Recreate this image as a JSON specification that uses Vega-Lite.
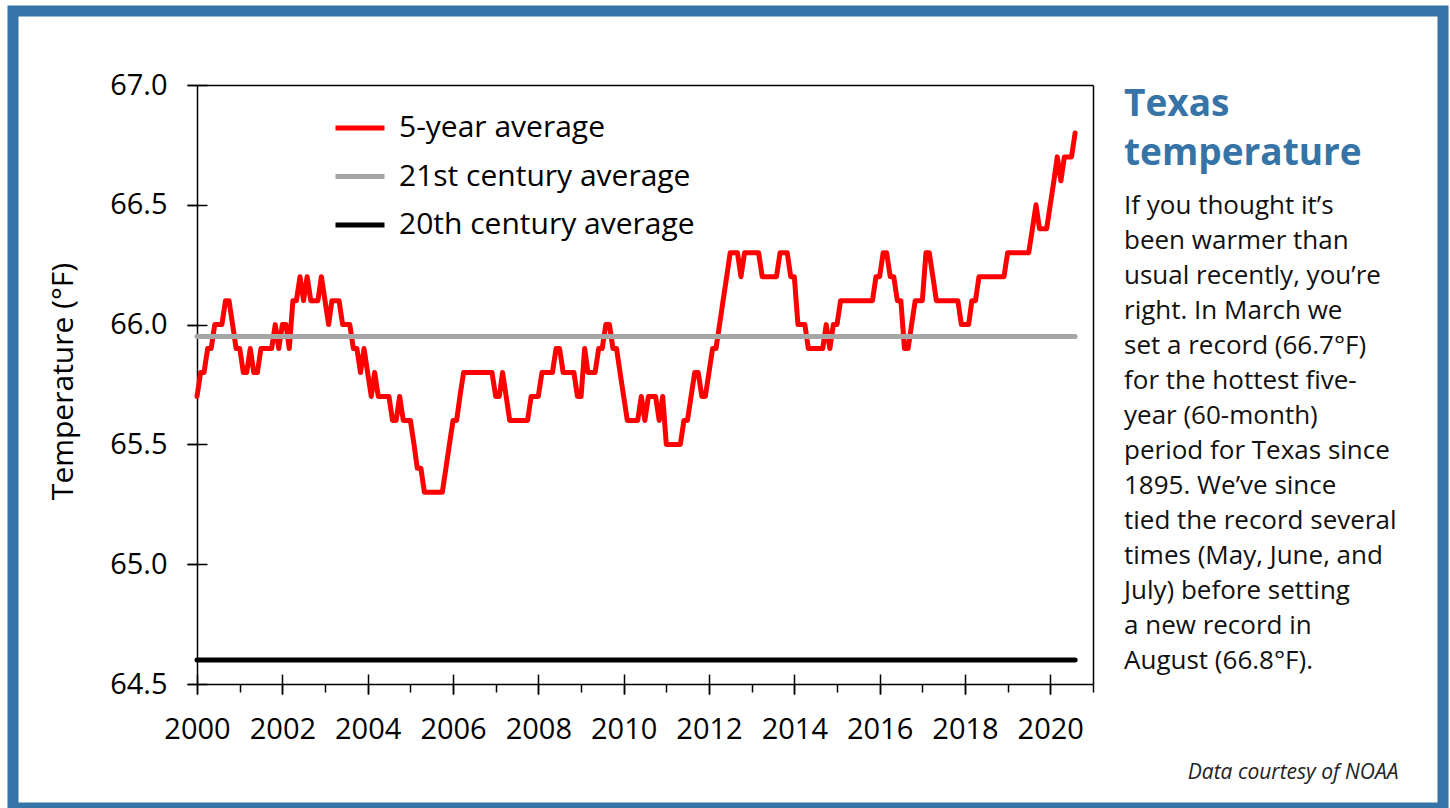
{
  "$schema": "https://vega.github.io/schema/vega-lite/v6.json",
  "width": 1430,
  "height": 797,
  "autosize": "none",
  "padding": {"left": 13, "top": 11, "right": 7, "bottom": 0},
  "background": "white",
  "datasets": {
    "five": [
      {"d":"2000-01","t":65.7},{"d":"2000-02","t":65.8},{"d":"2000-03","t":65.8},{"d":"2000-04","t":65.9},{"d":"2000-05","t":65.9},{"d":"2000-06","t":66.0},{"d":"2000-07","t":66.0},{"d":"2000-08","t":66.0},{"d":"2000-09","t":66.1},{"d":"2000-10","t":66.1},{"d":"2000-11","t":66.0},{"d":"2000-12","t":65.9},
      {"d":"2001-01","t":65.9},{"d":"2001-02","t":65.8},{"d":"2001-03","t":65.8},{"d":"2001-04","t":65.9},{"d":"2001-05","t":65.8},{"d":"2001-06","t":65.8},{"d":"2001-07","t":65.9},{"d":"2001-08","t":65.9},{"d":"2001-09","t":65.9},{"d":"2001-10","t":65.9},{"d":"2001-11","t":66.0},{"d":"2001-12","t":65.9},
      {"d":"2002-01","t":66.0},{"d":"2002-02","t":66.0},{"d":"2002-03","t":65.9},{"d":"2002-04","t":66.1},{"d":"2002-05","t":66.1},{"d":"2002-06","t":66.2},{"d":"2002-07","t":66.1},{"d":"2002-08","t":66.2},{"d":"2002-09","t":66.1},{"d":"2002-10","t":66.1},{"d":"2002-11","t":66.1},{"d":"2002-12","t":66.2},
      {"d":"2003-01","t":66.1},{"d":"2003-02","t":66.0},{"d":"2003-03","t":66.1},{"d":"2003-04","t":66.1},{"d":"2003-05","t":66.1},{"d":"2003-06","t":66.0},{"d":"2003-07","t":66.0},{"d":"2003-08","t":66.0},{"d":"2003-09","t":65.9},{"d":"2003-10","t":65.9},{"d":"2003-11","t":65.8},{"d":"2003-12","t":65.9},
      {"d":"2004-01","t":65.8},{"d":"2004-02","t":65.7},{"d":"2004-03","t":65.8},{"d":"2004-04","t":65.7},{"d":"2004-05","t":65.7},{"d":"2004-06","t":65.7},{"d":"2004-07","t":65.7},{"d":"2004-08","t":65.6},{"d":"2004-09","t":65.6},{"d":"2004-10","t":65.7},{"d":"2004-11","t":65.6},{"d":"2004-12","t":65.6},
      {"d":"2005-01","t":65.6},{"d":"2005-02","t":65.5},{"d":"2005-03","t":65.4},{"d":"2005-04","t":65.4},{"d":"2005-05","t":65.3},{"d":"2005-06","t":65.3},{"d":"2005-07","t":65.3},{"d":"2005-08","t":65.3},{"d":"2005-09","t":65.3},{"d":"2005-10","t":65.3},{"d":"2005-11","t":65.4},{"d":"2005-12","t":65.5},
      {"d":"2006-01","t":65.6},{"d":"2006-02","t":65.6},{"d":"2006-03","t":65.7},{"d":"2006-04","t":65.8},{"d":"2006-05","t":65.8},{"d":"2006-06","t":65.8},{"d":"2006-07","t":65.8},{"d":"2006-08","t":65.8},{"d":"2006-09","t":65.8},{"d":"2006-10","t":65.8},{"d":"2006-11","t":65.8},{"d":"2006-12","t":65.8},
      {"d":"2007-01","t":65.7},{"d":"2007-02","t":65.7},{"d":"2007-03","t":65.8},{"d":"2007-04","t":65.7},{"d":"2007-05","t":65.6},{"d":"2007-06","t":65.6},{"d":"2007-07","t":65.6},{"d":"2007-08","t":65.6},{"d":"2007-09","t":65.6},{"d":"2007-10","t":65.6},{"d":"2007-11","t":65.7},{"d":"2007-12","t":65.7},
      {"d":"2008-01","t":65.7},{"d":"2008-02","t":65.8},{"d":"2008-03","t":65.8},{"d":"2008-04","t":65.8},{"d":"2008-05","t":65.8},{"d":"2008-06","t":65.9},{"d":"2008-07","t":65.9},{"d":"2008-08","t":65.8},{"d":"2008-09","t":65.8},{"d":"2008-10","t":65.8},{"d":"2008-11","t":65.8},{"d":"2008-12","t":65.7},
      {"d":"2009-01","t":65.7},{"d":"2009-02","t":65.9},{"d":"2009-03","t":65.8},{"d":"2009-04","t":65.8},{"d":"2009-05","t":65.8},{"d":"2009-06","t":65.9},{"d":"2009-07","t":65.9},{"d":"2009-08","t":66.0},{"d":"2009-09","t":66.0},{"d":"2009-10","t":65.9},{"d":"2009-11","t":65.9},{"d":"2009-12","t":65.8},
      {"d":"2010-01","t":65.7},{"d":"2010-02","t":65.6},{"d":"2010-03","t":65.6},{"d":"2010-04","t":65.6},{"d":"2010-05","t":65.6},{"d":"2010-06","t":65.7},{"d":"2010-07","t":65.6},{"d":"2010-08","t":65.7},{"d":"2010-09","t":65.7},{"d":"2010-10","t":65.7},{"d":"2010-11","t":65.6},{"d":"2010-12","t":65.7},
      {"d":"2011-01","t":65.5},{"d":"2011-02","t":65.5},{"d":"2011-03","t":65.5},{"d":"2011-04","t":65.5},{"d":"2011-05","t":65.5},{"d":"2011-06","t":65.6},{"d":"2011-07","t":65.6},{"d":"2011-08","t":65.7},{"d":"2011-09","t":65.8},{"d":"2011-10","t":65.8},{"d":"2011-11","t":65.7},{"d":"2011-12","t":65.7},
      {"d":"2012-01","t":65.8},{"d":"2012-02","t":65.9},{"d":"2012-03","t":65.9},{"d":"2012-04","t":66.0},{"d":"2012-05","t":66.1},{"d":"2012-06","t":66.2},{"d":"2012-07","t":66.3},{"d":"2012-08","t":66.3},{"d":"2012-09","t":66.3},{"d":"2012-10","t":66.2},{"d":"2012-11","t":66.3},{"d":"2012-12","t":66.3},
      {"d":"2013-01","t":66.3},{"d":"2013-02","t":66.3},{"d":"2013-03","t":66.3},{"d":"2013-04","t":66.2},{"d":"2013-05","t":66.2},{"d":"2013-06","t":66.2},{"d":"2013-07","t":66.2},{"d":"2013-08","t":66.2},{"d":"2013-09","t":66.3},{"d":"2013-10","t":66.3},{"d":"2013-11","t":66.3},{"d":"2013-12","t":66.2},
      {"d":"2014-01","t":66.2},{"d":"2014-02","t":66.0},{"d":"2014-03","t":66.0},{"d":"2014-04","t":66.0},{"d":"2014-05","t":65.9},{"d":"2014-06","t":65.9},{"d":"2014-07","t":65.9},{"d":"2014-08","t":65.9},{"d":"2014-09","t":65.9},{"d":"2014-10","t":66.0},{"d":"2014-11","t":65.9},{"d":"2014-12","t":66.0},
      {"d":"2015-01","t":66.0},{"d":"2015-02","t":66.1},{"d":"2015-03","t":66.1},{"d":"2015-04","t":66.1},{"d":"2015-05","t":66.1},{"d":"2015-06","t":66.1},{"d":"2015-07","t":66.1},{"d":"2015-08","t":66.1},{"d":"2015-09","t":66.1},{"d":"2015-10","t":66.1},{"d":"2015-11","t":66.1},{"d":"2015-12","t":66.2},
      {"d":"2016-01","t":66.2},{"d":"2016-02","t":66.3},{"d":"2016-03","t":66.3},{"d":"2016-04","t":66.2},{"d":"2016-05","t":66.2},{"d":"2016-06","t":66.1},{"d":"2016-07","t":66.1},{"d":"2016-08","t":65.9},{"d":"2016-09","t":65.9},{"d":"2016-10","t":66.0},{"d":"2016-11","t":66.1},{"d":"2016-12","t":66.1},
      {"d":"2017-01","t":66.1},{"d":"2017-02","t":66.3},{"d":"2017-03","t":66.3},{"d":"2017-04","t":66.2},{"d":"2017-05","t":66.1},{"d":"2017-06","t":66.1},{"d":"2017-07","t":66.1},{"d":"2017-08","t":66.1},{"d":"2017-09","t":66.1},{"d":"2017-10","t":66.1},{"d":"2017-11","t":66.1},{"d":"2017-12","t":66.0},
      {"d":"2018-01","t":66.0},{"d":"2018-02","t":66.0},{"d":"2018-03","t":66.1},{"d":"2018-04","t":66.1},{"d":"2018-05","t":66.2},{"d":"2018-06","t":66.2},{"d":"2018-07","t":66.2},{"d":"2018-08","t":66.2},{"d":"2018-09","t":66.2},{"d":"2018-10","t":66.2},{"d":"2018-11","t":66.2},{"d":"2018-12","t":66.2},
      {"d":"2019-01","t":66.3},{"d":"2019-02","t":66.3},{"d":"2019-03","t":66.3},{"d":"2019-04","t":66.3},{"d":"2019-05","t":66.3},{"d":"2019-06","t":66.3},{"d":"2019-07","t":66.3},{"d":"2019-08","t":66.4},{"d":"2019-09","t":66.5},{"d":"2019-10","t":66.4},{"d":"2019-11","t":66.4},{"d":"2019-12","t":66.4},
      {"d":"2020-01","t":66.5},{"d":"2020-02","t":66.6},{"d":"2020-03","t":66.7},{"d":"2020-04","t":66.6},{"d":"2020-05","t":66.7},{"d":"2020-06","t":66.7},{"d":"2020-07","t":66.7},{"d":"2020-08","t":66.8}
    ],
    "avg": [
      {"d":"2000-01","t":65.95,"s":"21st century average"},
      {"d":"2020-08","t":65.95,"s":"21st century average"},
      {"d":"2000-01","t":64.6,"s":"20th century average"},
      {"d":"2020-08","t":64.6,"s":"20th century average"}
    ]
  },
  "title": {
    "text": ["Texas", "temperature"],
    "subtitle": [
      "If you thought it’s",
      "been warmer than",
      "usual recently, you’re",
      "right. In March we",
      "set a record (66.7°F)",
      "for the hottest five-",
      "year (60-month)",
      "period for Texas since",
      "1895. We’ve since",
      "tied the record several",
      "times (May, June, and",
      "July) before setting",
      " a new record in",
      "August (66.8°F)."
    ],
    "orient": "top",
    "anchor": "start",
    "frame": "group",
    "offset": 0,
    "dx": 1111,
    "dy": 664,
    "font": "Open Sans",
    "fontSize": 37,
    "fontWeight": "bold",
    "color": "#3673a6",
    "lineHeight": 49,
    "subtitleFont": "Open Sans",
    "subtitleFontSize": 26,
    "subtitleLineHeight": 35,
    "subtitleColor": "#111111",
    "subtitlePadding": 20
  },
  "layer": [
    {
      "data": {"name": "five"},
      "mark": {"type": "line", "strokeWidth": 5, "strokeCap": "round", "strokeJoin": "round"},
      "encoding": {
        "x": {
          "field": "d", "type": "temporal",
          "scale": {"type": "utc", "domain": [{"year": 2000, "month": 1, "date": 1, "utc": true}, {"year": 2021, "month": 1, "date": 1, "utc": true}], "range": [184, 1080], "nice": false},
          "axis": {
            "orient": "bottom", "offset": -124,
            "values": [{"year":2000,"utc":true},{"year":2002,"utc":true},{"year":2004,"utc":true},{"year":2006,"utc":true},{"year":2008,"utc":true},{"year":2010,"utc":true},{"year":2012,"utc":true},{"year":2014,"utc":true},{"year":2016,"utc":true},{"year":2018,"utc":true},{"year":2020,"utc":true}],
            "labelExpr": "utcFormat(datum.value, '%Y')",
            "tickSize": 10, "labelPadding": 21, "labelFontSize": 29,
            "labelFlush": false, "labelOverlap": false,
            "domain": true,
            "title": "Data courtesy of NOAA",
            "titleX": 1385, "titleY": 94, "titleAlign": "right", "titleBaseline": "alphabetic",
            "titleFontStyle": "italic", "titleFontWeight": "normal", "titleFontSize": 21, "titleColor": "#222222"
          }
        },
        "y": {
          "field": "t", "type": "quantitative",
          "scale": {"domain": [64.5, 67], "range": [673, 74], "nice": false, "zero": false},
          "axis": {
            "orient": "left", "offset": -184,
            "values": [64.5, 65, 65.5, 66, 66.5, 67],
            "format": ".1f",
            "tickSize": 10, "labelPadding": 20, "labelFontSize": 29,
            "domain": true,
            "title": "Temperature (°F)",
            "titleFontSize": 30, "titleFontWeight": "normal",
            "titleX": -119, "titleY": 370, "titleAngle": -90, "titleBaseline": "bottom", "titleAlign": "center"
          }
        },
        "color": {
          "datum": "5-year average", "type": "nominal", "title": null,
          "scale": {"domain": ["5-year average", "21st century average", "20th century average"], "range": ["#ff0000", "#a6a6a6", "#000000"]},
          "legend": {
            "orient": "none", "legendX": 320, "legendY": 90,
            "title": null, "symbolType": "stroke", "symbolSize": 2400, "symbolStrokeWidth": 5,
            "labelFontSize": 30, "labelFont": "Open Sans", "labelColor": "black", "labelOffset": 12, "labelLimit": 500,
            "rowPadding": 6.5, "padding": 0
          }
        }
      }
    },
    {
      "data": {"name": "avg"},
      "mark": {"type": "line", "strokeWidth": 5, "strokeCap": "round"},
      "encoding": {
        "x": {
          "field": "d", "type": "temporal",
          "axis": {
            "orient": "bottom", "offset": -134,
            "values": [{"year":2000,"utc":true},{"year":2002,"utc":true},{"year":2004,"utc":true},{"year":2006,"utc":true},{"year":2008,"utc":true},{"year":2010,"utc":true},{"year":2012,"utc":true},{"year":2014,"utc":true},{"year":2016,"utc":true},{"year":2018,"utc":true},{"year":2020,"utc":true}],
            "tickSize": 20, "labels": false, "domain": false, "title": null
          }
        },
        "y": {
          "field": "t", "type": "quantitative",
          "axis": {
            "orient": "left", "offset": -194,
            "values": [64.5, 65, 65.5, 66, 66.5, 67],
            "tickSize": 20, "labels": false, "domain": false, "title": null
          }
        },
        "color": {
          "field": "s", "type": "nominal", "title": null,
          "legend": {
            "orient": "none", "legendX": 320, "legendY": 90,
            "title": null, "symbolType": "stroke", "symbolSize": 2400, "symbolStrokeWidth": 5,
            "labelFontSize": 30, "labelFont": "Open Sans", "labelColor": "black", "labelOffset": 12, "labelLimit": 500,
            "rowPadding": 6.5, "padding": 0
          }
        }
      }
    },
    {
      "data": {"name": "avg"},
      "mark": {"type": "line", "opacity": 0},
      "encoding": {
        "x": {
          "field": "d", "type": "temporal",
          "axis": {
            "orient": "bottom", "offset": -124,
            "values": [{"year":2001,"utc":true},{"year":2003,"utc":true},{"year":2005,"utc":true},{"year":2007,"utc":true},{"year":2009,"utc":true},{"year":2011,"utc":true},{"year":2013,"utc":true},{"year":2015,"utc":true},{"year":2017,"utc":true},{"year":2019,"utc":true},{"year":2021,"utc":true}],
            "tickSize": 8, "labels": false, "domain": false, "title": null
          }
        },
        "y": {
          "field": "t", "type": "quantitative",
          "axis": {"orient": "right", "offset": -350, "ticks": false, "labels": false, "domain": true, "title": null}
        }
      }
    },
    {
      "data": {"name": "avg"},
      "mark": {"type": "line", "opacity": 0},
      "encoding": {
        "x": {
          "field": "d", "type": "temporal",
          "axis": {"orient": "top", "offset": -74, "ticks": false, "labels": false, "domain": true, "title": null}
        },
        "y": {"field": "t", "type": "quantitative", "axis": null}
      }
    }
  ],
  "resolve": {"axis": {"x": "independent", "y": "independent"}},
  "config": {
    "font": "Open Sans",
    "view": {"fill": "white", "stroke": "#3673a6", "strokeWidth": 11},
    "axis": {
      "grid": false,
      "labelFont": "Open Sans", "titleFont": "Open Sans",
      "labelColor": "black", "titleColor": "black",
      "domainColor": "black", "tickColor": "black",
      "domainWidth": 1.5, "tickWidth": 1.5
    }
  }
}
